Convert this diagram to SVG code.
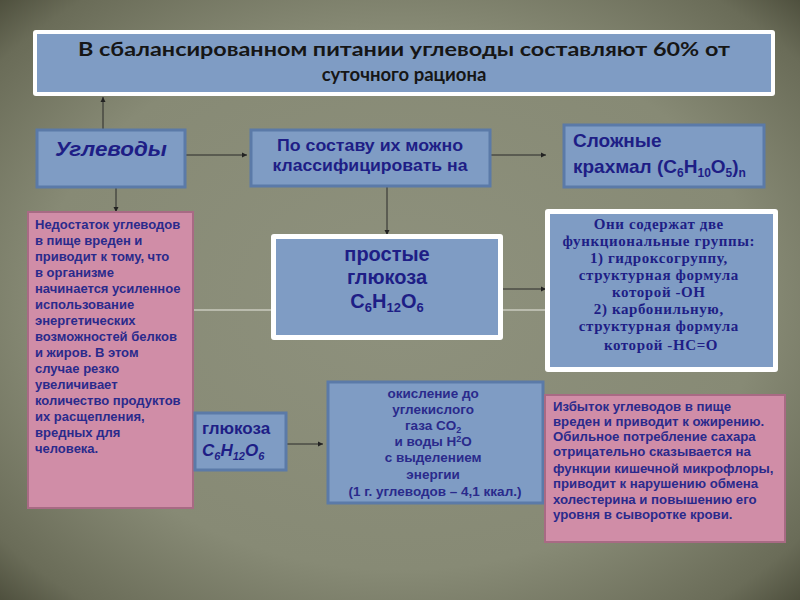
<svg xmlns="http://www.w3.org/2000/svg" width="800" height="600" viewBox="0 0 800 600">
<defs>
<radialGradient id="bg" cx="50%" cy="50%" r="75%">
<stop offset="0" stop-color="#8e917d"/>
<stop offset="0.6" stop-color="#878a75"/>
<stop offset="0.85" stop-color="#6a6c58"/>
<stop offset="1" stop-color="#3e3f2e"/>
</radialGradient>
<marker id="arr" markerWidth="6" markerHeight="6" refX="5" refY="3" orient="auto" markerUnits="userSpaceOnUse">
<path d="M0,0.5 L5,3 L0,5.5 Z" fill="#222"/>
</marker>
<style>
.blue{fill:#7f9cc4;stroke:#5b7aa8;stroke-width:3}
.pink{fill:#d08da7;stroke:#a86a84;stroke-width:2}
.wframe{fill:#ffffff}
.inner{fill:#7f9cc4}
.conn{stroke:#2a2a2a;stroke-width:1;fill:none}
.light{stroke:#e8e8e0;stroke-width:1;fill:none}
.sans{font-family:"Liberation Sans",Arial,sans-serif;font-weight:bold;fill:#1e1e86}
.serif{font-family:"Liberation Serif","DejaVu Serif",serif;font-weight:bold;fill:#1e1e86}
.title{font-family:Lato,"Open Sans",sans-serif;font-weight:bold;fill:#161616;font-size:18.5px}
.small{fill:#2a2a8c}
</style>
</defs>
<rect x="0" y="0" width="800" height="600" fill="url(#bg)"/>

<g id="connectors">
<line class="light" x1="193" y1="310" x2="272" y2="310"/>
<line class="light" x1="503" y1="310" x2="546" y2="310"/>
<line class="conn" x1="103" y1="129" x2="103" y2="97" marker-end="url(#arr)"/>
<line class="conn" x1="173" y1="155" x2="247" y2="155" marker-end="url(#arr)"/>
<line class="conn" x1="490" y1="155" x2="546" y2="155" marker-end="url(#arr)"/>
<line class="conn" x1="116" y1="188" x2="116" y2="212" marker-end="url(#arr)"/>
<line class="conn" x1="387" y1="187" x2="387" y2="235" marker-end="url(#arr)"/>
<line class="conn" x1="503" y1="289" x2="546" y2="289" marker-end="url(#arr)"/>
<line class="conn" x1="278" y1="444" x2="323" y2="444" marker-end="url(#arr)"/>
</g>

<g id="title">
<rect class="wframe" x="33" y="30" width="742" height="66" rx="3"/>
<rect class="inner" x="37" y="34" width="734" height="58"/>
<text class="title" x="404" y="56" text-anchor="middle" textLength="652" lengthAdjust="spacingAndGlyphs">В сбалансированном питании  углеводы составляют  60% от</text>
<text class="title" x="404" y="81" text-anchor="middle">суточного рациона</text>
</g>

<g id="uglevody">
<rect class="blue" x="37" y="130" width="148" height="57"/>
<text class="sans" x="55" y="156" font-size="20" font-style="italic" textLength="112" lengthAdjust="spacingAndGlyphs">Углеводы</text>
</g>

<g id="po-sostavu">
<rect class="blue" x="251" y="130" width="239" height="56"/>
<text class="sans" x="370" y="151" font-size="16" text-anchor="middle" textLength="186" lengthAdjust="spacingAndGlyphs">По составу их можно</text>
<text class="sans" x="370" y="171" font-size="16" text-anchor="middle" textLength="195" lengthAdjust="spacingAndGlyphs">классифицировать на</text>
</g>

<g id="slozhnye">
<rect class="blue" x="564" y="125" width="200" height="62"/>
<text class="sans" x="573" y="147" font-size="19">Сложные</text>
<text class="sans" x="573" y="173" font-size="19">крахмал (C<tspan font-size="12" dy="4">6</tspan><tspan dy="-4">H</tspan><tspan font-size="12" dy="4">10</tspan><tspan dy="-4">O</tspan><tspan font-size="12" dy="4">5</tspan><tspan dy="-4">)</tspan><tspan font-size="12" dy="4">n</tspan></text>
</g>

<g id="nedostatok">
<rect class="pink" x="28" y="212" width="165" height="296"/>
<text class="sans small" font-size="13">
<tspan x="35" y="229">Недостаток углеводов</tspan>
<tspan x="35" y="245">в  пище вреден  и</tspan>
<tspan x="35" y="261">приводит к  тому, что</tspan>
<tspan x="35" y="277">в организме</tspan>
<tspan x="35" y="293">начинается усиленное</tspan>
<tspan x="35" y="309">использование</tspan>
<tspan x="35" y="325">энергетических</tspan>
<tspan x="35" y="341">возможностей белков</tspan>
<tspan x="35" y="357">и жиров. В этом</tspan>
<tspan x="35" y="373">случае резко</tspan>
<tspan x="35" y="389">увеличивает</tspan>
<tspan x="35" y="405">количество продуктов</tspan>
<tspan x="35" y="421">их расщепления,</tspan>
<tspan x="35" y="437">вредных для</tspan>
<tspan x="35" y="453">человека.</tspan>
</text>
</g>

<g id="prostye">
<rect class="wframe" x="271" y="234" width="232" height="106" rx="3"/>
<rect class="inner" x="276" y="239" width="222" height="96"/>
<text class="sans" x="387" y="261" font-size="20" text-anchor="middle">простые</text>
<text class="sans" x="387" y="284" font-size="20" text-anchor="middle">глюкоза</text>
<text class="sans" x="387" y="308" font-size="20" text-anchor="middle">C<tspan font-size="13" dy="4">6</tspan><tspan dy="-4">H</tspan><tspan font-size="13" dy="4">12</tspan><tspan dy="-4">O</tspan><tspan font-size="13" dy="4">6</tspan></text>
</g>

<g id="funkcii">
<rect class="wframe" x="545" y="209" width="233" height="163" rx="3"/>
<rect class="inner" x="550" y="214" width="223" height="153"/>
<text class="serif" font-size="15" text-anchor="middle" letter-spacing="0.6">
<tspan x="661" y="229">Они содержат две</tspan>
<tspan x="661" y="246">функциональные группы:</tspan>
<tspan x="661" y="263">1) гидроксогруппу,</tspan>
<tspan x="661" y="280">структурная формула</tspan>
<tspan x="661" y="297">которой  -ОН</tspan>
<tspan x="661" y="314">2) карбонильную,</tspan>
<tspan x="661" y="331">структурная формула</tspan>
<tspan x="661" y="350">которой  -НС=О</tspan>
</text>
</g>

<g id="glukoza">
<rect class="blue" x="195" y="413" width="91" height="57"/>
<text class="sans" x="202" y="434" font-size="17">глюкоза</text>
<text class="sans" x="202" y="456" font-size="17" font-style="italic">C<tspan font-size="11" dy="4">6</tspan><tspan dy="-4">H</tspan><tspan font-size="11" dy="4">12</tspan><tspan dy="-4">O</tspan><tspan font-size="11" dy="4">6</tspan></text>
</g>

<g id="okislenie">
<rect class="blue" x="328" y="382" width="215" height="121"/>
<text class="sans small" font-size="13.5" text-anchor="middle">
<tspan x="435" y="398">окисление до</tspan>
<tspan x="435" y="414">углекислого</tspan>
<tspan x="435" y="430">газа CO<tspan font-size="9" dy="3">2</tspan></tspan>
<tspan x="435" y="446">и воды H<tspan font-size="9" dy="-4">2</tspan><tspan dy="4">O</tspan></tspan>
<tspan x="435" y="462">с выделением</tspan>
<tspan x="435" y="479">энергии</tspan>
<tspan x="435" y="496">(1 г. углеводов – 4,1  ккал.)</tspan>
</text>
</g>

<g id="izbytok">
<rect class="pink" x="545" y="395" width="240" height="147"/>
<text class="sans small" font-size="13.2">
<tspan x="553" y="411">Избыток углеводов в  пище</tspan>
<tspan x="553" y="426">вреден  и приводит к  ожирению.</tspan>
<tspan x="553" y="441">Обильное потребление сахара</tspan>
<tspan x="553" y="456">отрицательно сказывается на</tspan>
<tspan x="553" y="473">функции кишечной микрофлоры,</tspan>
<tspan x="553" y="488">приводит к нарушению обмена</tspan>
<tspan x="553" y="504">холестерина и повышению его</tspan>
<tspan x="553" y="519">уровня в сыворотке крови.</tspan>
</text>
</g>
</svg>
